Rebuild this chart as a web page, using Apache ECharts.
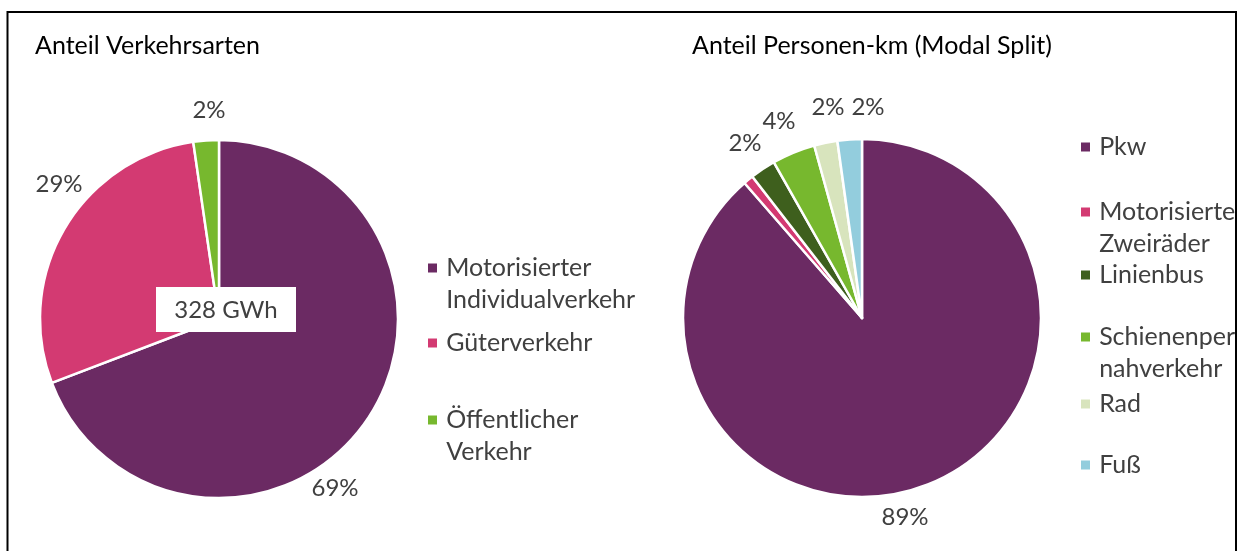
<!DOCTYPE html>
<html>
<head>
<meta charset="utf-8">
<script src="https://cdn.jsdelivr.net/npm/echarts@6/dist/echarts.min.js"></script>
<style>
  html, body { margin: 0; padding: 0; background: #fff; }
  #chart { width: 1241px; height: 551px; }
</style>
</head>
<body>
<div id="chart"></div>
<script>
// Daten linkes Diagramm (Anteil Verkehrsarten)
var artenNamen = ['Motorisierter\nIndividualverkehr', 'Güterverkehr', 'Öffentlicher\nVerkehr']
var artenWerte = [69.2, 28.5, 2.3]
var artenFarben = ['#6b2a63', '#d33a72', '#77b82e']
var summeText = '328 GWh'

// Daten rechtes Diagramm (Modal Split)
var modalNamen = ['Pkw', 'Motorisierte\nZweiräder', 'Linienbus', 'Schienenpersonen-\nnahverkehr', 'Rad', 'Fuß']
var modalWerte = [88.6, 0.9, 2.3, 3.9, 2.1, 2.2]
var modalFarben = ['#6b2a63', '#d33a72', '#3e5f1d', '#77b82e', '#d8e4bd', '#93cddd']

var schrift = 'Lato'
var grau = '#404040'
var zeile = 32

// Legendenpositionen (y der ersten Zeile)
var artenLegendY = [268, 343, 420]
var modalLegendY = [147, 212, 275, 337, 404, 465]

// Beschriftungspositionen wie im Original (Excel "bestFit"), null = ohne Beschriftung
var artenLabelPos = [[335, 488], [59, 184], [209, 110]]
var modalLabelPos = [[905, 517], null, [745, 143], [779, 121], [828, 107], [868, 107]]

function pieData (namen, werte, farben) {
  return namen.map(function (n, i) {
    return { name: n, value: werte[i], itemStyle: { color: farben[i] } }
  })
}

function legenden (namen, yListe, links) {
  return namen.map(function (n, i) {
    var zweiZeilig = n.indexOf('\n') >= 0
    return {
      data: [n],
      orient: 'vertical',
      left: links,
      top: zweiZeilig ? yListe[i] - 1.5 * zeile : yListe[i] - zeile / 2,
      padding: 0,
      itemWidth: 11,
      itemHeight: 11,
      itemGap: 0,
      icon: 'rect',
      selectedMode: false,
      // Symbol soll neben der ersten Zeile stehen
      formatter: function (name) {
        var zeilen = name.split('\n').map(function (z) { return '\u2009' + z })
        return (zeilen.length > 1 ? '\n' : '') + zeilen.join('\n')
      },
      textStyle: {
        fontFamily: schrift,
        fontSize: 25,
        color: grau,
        lineHeight: zeile
      }
    }
  })
}

function labelLayoutAus (posListe) {
  return function (p) {
    var pos = posListe[p.dataIndex]
    if (!pos) return {}
    return { x: pos[0], y: pos[1], align: 'center', verticalAlign: 'middle' }
  }
}

var labelStil = {
  show: true,
  position: 'outside',
  fontFamily: schrift,
  fontSize: 24,
  color: grau,
  formatter: function (p) { return Math.round(p.percent) + '%' }
}

var modalData = pieData(modalNamen, modalWerte, modalFarben)
modalData[1].label = { show: false }

var myChart = echarts.init(document.getElementById('chart'))
var option = {
  backgroundColor: '#fff',
  animation: false,
  title: [
    { text: 'Anteil Verkehrsarten', left: 35, top: 33, padding: 0,
      textStyle: { fontFamily: schrift, fontSize: 25, fontWeight: 'normal', color: '#000' } },
    { text: 'Anteil Personen-km (Modal Split)', left: 692, top: 33, padding: 0,
      textStyle: { fontFamily: schrift, fontSize: 25, fontWeight: 'normal', color: '#000' } }
  ],
  legend: legenden(artenNamen, artenLegendY, 426).concat(legenden(modalNamen, modalLegendY, 1079)),
  series: [
    {
      type: 'pie',
      center: [219, 319],
      radius: 179,
      startAngle: 90,
      clockwise: true,
      avoidLabelOverlap: false,
      itemStyle: { borderColor: '#fff', borderWidth: 2.5 },
      label: labelStil,
      labelLine: { show: false, length: 12, length2: 0 },
      labelLayout: labelLayoutAus(artenLabelPos),
      emphasis: { disabled: true },
      data: pieData(artenNamen, artenWerte, artenFarben)
    },
    {
      type: 'pie',
      center: [862, 318],
      radius: 179,
      startAngle: 90,
      clockwise: true,
      avoidLabelOverlap: false,
      itemStyle: { borderColor: '#fff', borderWidth: 2.5 },
      label: labelStil,
      labelLine: { show: false, length: 12, length2: 0 },
      labelLayout: labelLayoutAus(modalLabelPos),
      emphasis: { disabled: true },
      data: modalData
    }
  ],
  graphic: [
    {
      type: 'group',
      left: 156,
      top: 287,
      children: [
        { type: 'rect', z: 50, shape: { x: 0, y: 0, width: 140, height: 45 }, style: { fill: '#fff' } },
        { type: 'text', z: 51, x: 70, y: 23,
          style: { text: summeText, fontFamily: schrift, fontSize: 24, fill: grau, align: 'center', verticalAlign: 'middle' } }
      ]
    },
    // rechter Rand abschneiden
    { type: 'rect', z: 90, shape: { x: 1237, y: 0, width: 10, height: 551 }, style: { fill: '#fff' } },
    // Rahmen
    { type: 'polyline', z: 100,
      shape: { points: [[7.5, 551], [7.5, 12], [1236, 12], [1236, 551]] },
      style: { stroke: '#000', lineWidth: 2, fill: null } }
  ]
}
myChart.setOption(option)
</script>
</body>
</html>
